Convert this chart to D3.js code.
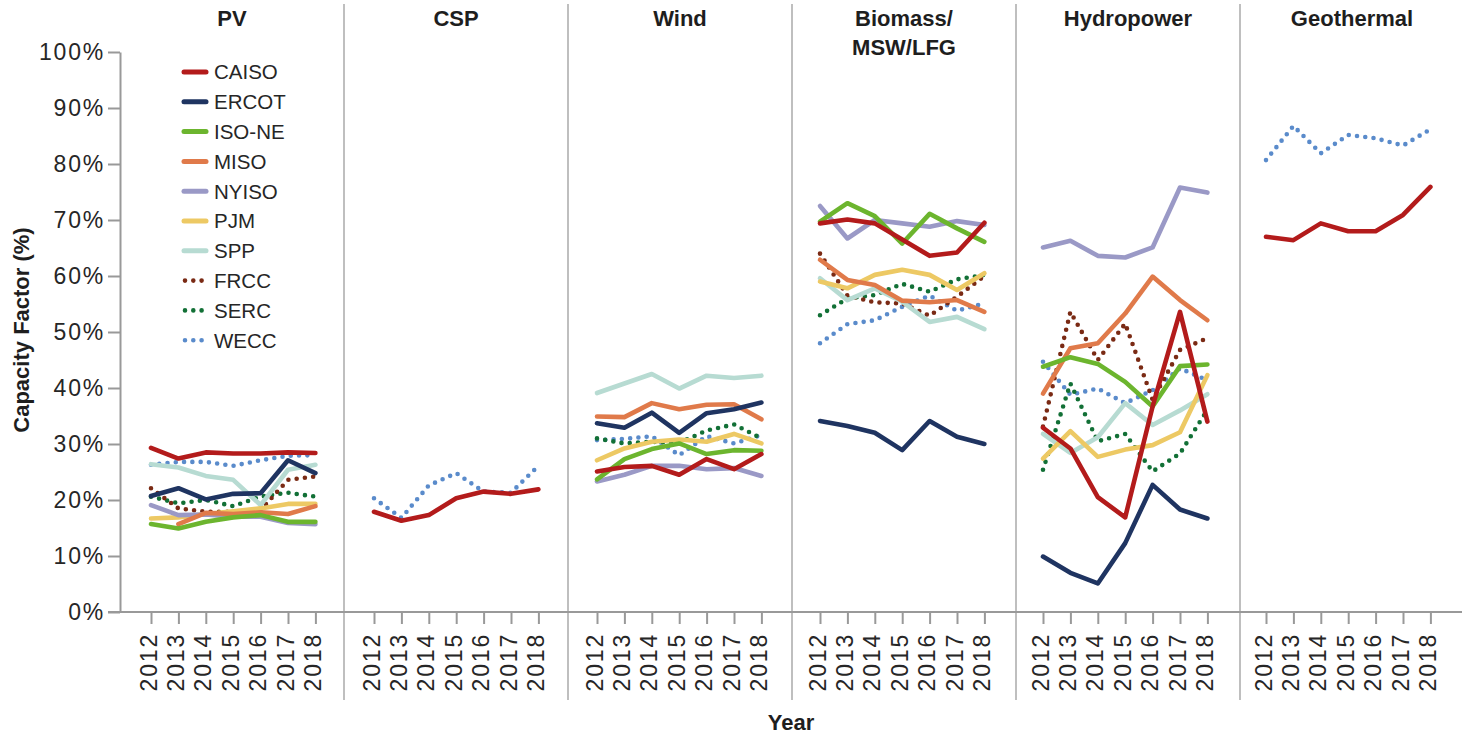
<!DOCTYPE html>
<html>
<head>
<meta charset="utf-8">
<script src="https://cdn.jsdelivr.net/npm/d3@7"></script>
<style>
  body { margin: 0; background: #fff; }
  svg { display: block; font-family: "Liberation Sans", Arial, sans-serif; }
  .tick text { fill: #262626; font-size: 23px; letter-spacing: 1.8px; }
  .tick line { stroke: #999; stroke-width: 2; }
  .domain { stroke: #999; stroke-width: 2; }
  .title { font-weight: bold; font-size: 22px; fill: #1e1e1e; text-anchor: middle; }
  .axis-title { font-weight: bold; font-size: 22px; fill: #1e1e1e; text-anchor: middle; }
  .legend text { font-size: 20.5px; fill: #262626; }
</style>
</head>
<body>
<div id="chart"></div>
<script>
// Years on the x axis of every panel.
var years = [2012, 2013, 2014, 2015, 2016, 2017, 2018];

// Regions, in legend order.
var regions = ['CAISO', 'ERCOT', 'ISO-NE', 'MISO', 'NYISO', 'PJM', 'SPP', 'FRCC', 'SERC', 'WECC'];
var colors = ['#b31b1b', '#1f3461', '#6cb52e', '#e07a4a', '#9a99c6', '#edc964', '#b7dbd2', '#7a2a14', '#127036', '#5a8bcb'];
var dotted = ['FRCC', 'SERC', 'WECC'];

// Capacity factor (%) per technology and region.
var pv = {
    'CAISO':  [29.3, 27.4, 28.5, 28.3, 28.3, 28.5, 28.4],
    'ERCOT':  [20.7, 22.1, 20.1, 21.1, 21.2, 27.1, 24.8],
    'ISO-NE': [15.7, 14.9, 16.1, 16.9, 17.3, 16.1, 16.1],
    'MISO':   [null, 15.7, 17.7, 17.5, 17.8, 17.5, 18.9],
    'NYISO':  [19.1, 17.3, 17.4, 17.0, 17.0, 15.9, 15.7],
    'PJM':    [16.7, 16.9, 17.5, 18.0, 18.5, 19.3, 19.3],
    'SPP':    [26.4, 25.8, 24.3, 23.6, 19.1, 25.4, 26.3],
    'FRCC':   [22.1, 18.5, 17.9, 17.9, 18.2, 23.6, 24.2],
    'SERC':   [20.6, 19.4, 20.0, 18.9, 20.6, 21.3, 20.6],
    'WECC':   [26.3, 26.8, 26.8, 26.1, 27.1, 27.9, 28.0]
};
var csp = {
    'CAISO':  [17.9, 16.3, 17.3, 20.3, 21.5, 21.1, 21.9],
    'WECC':   [20.3, 16.8, 22.6, 24.8, 21.5, 21.3, 26.1]
};
var wind = {
    'CAISO':  [25.1, 25.9, 26.1, 24.5, 27.3, 25.5, 28.2],
    'ERCOT':  [33.7, 32.9, 35.6, 32.0, 35.5, 36.2, 37.4],
    'ISO-NE': [23.7, 27.3, 29.1, 30.1, 28.2, 28.9, 28.8],
    'MISO':   [34.9, 34.8, 37.3, 36.2, 37.0, 37.1, 34.4],
    'NYISO':  [23.3, 24.5, 26.1, 26.1, 25.5, 25.7, 24.3],
    'PJM':    [27.1, 29.2, 30.4, 30.8, 30.4, 31.8, 30.1],
    'SPP':    [39.1, 40.8, 42.5, 39.9, 42.2, 41.8, 42.2],
    'SERC':   [31.0, 30.1, 30.4, 30.2, 32.4, 33.5, 31.0],
    'WECC':   [30.7, 30.9, 31.4, 28.0, 31.4, 30.1, 31.6]
};
var biomass = {
    'CAISO':  [69.4, 70.1, 69.4, 66.5, 63.6, 64.2, 69.5],
    'ERCOT':  [34.1, 33.2, 32.0, 28.9, 34.1, 31.3, 30.0],
    'ISO-NE': [69.7, 73.0, 70.7, 65.8, 71.1, 68.5, 66.1],
    'MISO':   [62.9, 59.3, 58.4, 55.6, 55.3, 55.7, 53.6],
    'NYISO':  [72.5, 66.7, 70.0, 69.4, 68.8, 69.8, 69.1],
    'PJM':    [59.0, 57.8, 60.2, 61.1, 60.2, 57.5, 60.5],
    'SPP':    [59.6, 55.7, 57.8, 55.4, 51.8, 52.7, 50.5],
    'FRCC':   [64.0, 56.5, 55.3, 55.1, 52.9, 56.3, 60.0],
    'SERC':   [53.0, 56.0, 56.6, 58.6, 57.2, 59.4, 60.2],
    'WECC':   [48.0, 51.4, 52.1, 54.5, 56.5, 53.8, 55.1]
};
var hydro = {
    'CAISO':  [32.9, 29.2, 20.5, 16.9, 36.7, 53.6, 34.0],
    'ERCOT':  [9.9, 7.0, 5.1, 12.3, 22.7, 18.3, 16.7],
    'ISO-NE': [43.8, 45.5, 44.3, 41.1, 36.7, 43.9, 44.2],
    'MISO':   [39.0, 47.1, 48.0, 53.3, 59.9, 55.7, 52.1],
    'NYISO':  [65.1, 66.3, 63.6, 63.3, 65.1, 75.8, 74.9],
    'PJM':    [27.4, 32.3, 27.7, 29.0, 29.8, 32.1, 42.3],
    'SPP':    [31.8, 28.4, 31.2, 37.3, 33.4, 36.0, 38.9],
    'FRCC':   [33.1, 53.6, 45.0, 51.5, 37.9, 46.8, 48.9],
    'SERC':   [25.4, 40.8, 30.5, 31.8, 25.1, 28.3, 36.1],
    'WECC':   [44.7, 38.8, 39.9, 37.3, 39.6, 43.5, 41.4]
};
var geothermal = {
    'CAISO':  [67.0, 66.4, 69.4, 68.0, 68.0, 70.9, 75.9],
    'WECC':   [80.7, 86.8, 81.9, 85.2, 84.6, 83.3, 86.2]
};

var panelTitles = [['PV'], ['CSP'], ['Wind'], ['Biomass/', 'MSW/LFG'], ['Hydropower'], ['Geothermal']];
var panelData = [pv, csp, wind, biomass, hydro, geothermal];
var yTicks = [0, 10, 20, 30, 40, 50, 60, 70, 80, 90, 100];

var width = 1462, height = 736;
var left = 120, panelW = 224, tickStep = 27.4;

var svg = d3.select('#chart').append('svg')
    .attr('width', width)
    .attr('height', height);

var y = d3.scaleLinear().domain([0, 100]).range([612, 52]);
var color = d3.scaleOrdinal().domain(regions).range(colors);

// Panel dividers.
d3.range(1, 6).forEach(function(k) {
    svg.append('line')
        .attr('x1', left + k * panelW).attr('x2', left + k * panelW)
        .attr('y1', 4).attr('y2', 700)
        .attr('stroke', '#aaa').attr('stroke-width', 1.5);
});

// Y axis.
svg.append('g')
    .attr('transform', 'translate(' + left + ',0)')
    .call(d3.axisLeft(y).tickValues(yTicks).tickFormat(function(d) { return d + '%'; })
        .tickSize(12).tickPadding(3).tickSizeOuter(0));

// Baseline across all panels.
svg.append('line')
    .attr('x1', left - 12).attr('x2', width)
    .attr('y1', y(0)).attr('y2', y(0))
    .attr('stroke', '#999').attr('stroke-width', 2);

var line = d3.line()
    .defined(function(d) { return d.v != null; })
    .x(function(d) { return d.x; })
    .y(function(d) { return y(d.v); });

panelData.forEach(function(data, k) {
    var start = left + 31 + k * 223;
    var x = d3.scalePoint().domain(years).range([start, start + 6 * tickStep]);

    // X axis with rotated year labels.
    var gx = svg.append('g')
        .attr('transform', 'translate(0,' + y(0) + ')')
        .call(d3.axisBottom(x).tickSize(12).tickPadding(0));
    gx.select('.domain').remove();
    gx.selectAll('.tick text')
        .attr('transform', 'translate(0,21) rotate(-90)')
        .attr('text-anchor', 'end')
        .attr('x', 0).attr('y', 0)
        .attr('dy', 5);

    // Panel title.
    var cx = left + k * panelW + panelW / 2;
    var t = svg.append('text').attr('class', 'title');
    panelTitles[k].forEach(function(s, i) {
        t.append('tspan').attr('x', cx).attr('y', 26 + i * 29).text(s);
    });

    // Lines, drawn so that CAISO ends on top.
    regions.slice().reverse().forEach(function(r) {
        if (!data[r]) return;
        var pts = years.map(function(yr, i) { return { x: x(yr), v: data[r][i] }; });
        var isDot = dotted.indexOf(r) >= 0;
        svg.append('path')
            .datum(pts)
            .attr('d', line)
            .attr('fill', 'none')
            .attr('stroke', color(r))
            .attr('stroke-width', 4.6)
            .attr('stroke-linecap', 'round')
            .attr('stroke-linejoin', 'round')
            .attr('stroke-dasharray', isDot ? '0 8.3' : null);
    });
});

// Legend.
var legend = svg.append('g').attr('class', 'legend');
regions.forEach(function(r, i) {
    var ly = 72 + i * 29.8;
    var isDot = dotted.indexOf(r) >= 0;
    legend.append('line')
        .attr('x1', isDot ? 185 : 184).attr('x2', isDot ? 205 : 206)
        .attr('y1', ly).attr('y2', ly)
        .attr('stroke', color(r))
        .attr('stroke-width', isDot ? 4.6 : 5)
        .attr('stroke-linecap', 'round')
        .attr('stroke-dasharray', isDot ? '0 8.3' : null);
    legend.append('text')
        .attr('x', 214).attr('y', ly).attr('dy', '0.36em')
        .text(r);
});

// Axis titles.
svg.append('text').attr('class', 'axis-title')
    .attr('transform', 'translate(29,330) rotate(-90)')
    .text('Capacity Factor (%)');
svg.append('text').attr('class', 'axis-title')
    .attr('x', 791).attr('y', 730)
    .text('Year');
</script>
</body>
</html>
